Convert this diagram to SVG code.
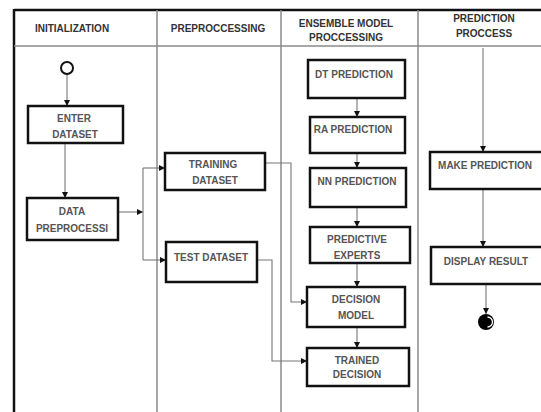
<svg xmlns="http://www.w3.org/2000/svg" width="541" height="412" viewBox="0 0 541 412">
  <style>
    .frame { stroke: #111; stroke-width: 2.5; fill: none; }
    .lane { stroke: #8a8a8a; stroke-width: 1.5; fill: none; }
    .hdr { font-family: "Liberation Sans", Arial, sans-serif; font-weight: bold; font-size: 10px; fill: #333; text-anchor: middle; }
    .box rect { fill: #fff; stroke: #111; stroke-width: 2.5; }
    .box text { font-family: "Liberation Sans", Arial, sans-serif; font-weight: bold; font-size: 10px; fill: #555; text-anchor: middle; }
    .conn { stroke: #777; stroke-width: 1.1; fill: none; marker-end: url(#arr); }
  </style>
  <defs>
    <marker id="arr" viewBox="0 0 6 6" refX="6" refY="3" markerWidth="6" markerHeight="6" markerUnits="userSpaceOnUse" orient="auto">
      <path d="M0,0 L6,3 L0,6 Z" fill="#111"/>
    </marker>
  </defs>
  <rect width="541" height="412" fill="#fff"/>

  <!-- swimlane frame -->
  <g id="lanes">
    <line class="frame" x1="14" y1="10" x2="541" y2="10"/>
    <line class="frame" x1="14" y1="9" x2="14" y2="412"/>
    <line class="lane" x1="14" y1="46" x2="541" y2="46"/>
    <line class="lane" x1="157" y1="10" x2="157" y2="412"/>
    <line class="lane" x1="281" y1="10" x2="281" y2="412"/>
    <line class="lane" x1="418" y1="10" x2="418" y2="412"/>
    <text class="hdr" x="72" y="32">INITIALIZATION</text>
    <text class="hdr" x="218" y="32">PREPROCCESSING</text>
    <text class="hdr" x="346" y="27" font-size="9">ENSEMBLE MODEL</text>
    <text class="hdr" x="346" y="41" font-size="9">PROCCESSING</text>
    <text class="hdr" x="484" y="22">PREDICTION</text>
    <text class="hdr" x="484" y="37">PROCCESS</text>
  </g>

  <!-- connectors -->
  <g id="connectors">
    <line class="conn" x1="67" y1="74" x2="67" y2="106"/>
    <line class="conn" x1="65" y1="143" x2="65" y2="198"/>
    <line class="conn" x1="118" y1="212" x2="143" y2="212"/>
    <line stroke="#777" stroke-width="1.1" x1="143" y1="168" x2="143" y2="260"/>
    <line class="conn" x1="143" y1="168" x2="165" y2="168"/>
    <line class="conn" x1="143" y1="260" x2="166" y2="260"/>
    <polyline class="conn" points="265,163 291,163 291,302 307,302"/>
    <polyline class="conn" points="257,260 272,260 272,361 307,361"/>
    <line class="conn" x1="357" y1="98" x2="357" y2="117"/>
    <line class="conn" x1="357" y1="153" x2="357" y2="168"/>
    <line class="conn" x1="357" y1="207" x2="357" y2="227"/>
    <line class="conn" x1="357" y1="263" x2="357" y2="287"/>
    <line class="conn" x1="357" y1="327" x2="357" y2="348"/>
    <line class="conn" x1="483" y1="48" x2="483" y2="152"/>
    <line class="conn" x1="483" y1="189" x2="483" y2="247"/>
    <line class="conn" x1="486" y1="284" x2="486" y2="314"/>
  </g>

  <g id="start">
    <circle cx="67" cy="68" r="6" fill="#fff" stroke="#111" stroke-width="2"/>
  </g>

  <g id="enter-dataset" class="box">
    <rect x="28" y="106" width="95" height="37"/>
    <text x="74" y="122">ENTER</text>
    <text x="75" y="138">DATASET</text>
  </g>
  <g id="data-preprocessing" class="box">
    <rect x="27" y="198" width="91" height="42"/>
    <text x="72" y="215">DATA</text>
    <text x="72" y="232">PREPROCESSI</text>
  </g>
  <g id="training-dataset" class="box">
    <rect x="165" y="153" width="100" height="37"/>
    <text x="213" y="168">TRAINING</text>
    <text x="215" y="184">DATASET</text>
  </g>
  <g id="test-dataset" class="box">
    <rect x="166" y="242" width="91" height="40"/>
    <text x="211" y="261">TEST DATASET</text>
  </g>

  <g id="dt-prediction" class="box">
    <rect x="308" y="60" width="97" height="38"/>
    <text x="354" y="78">DT PREDICTION</text>
  </g>
  <g id="ra-prediction" class="box">
    <rect x="310" y="117" width="95" height="36"/>
    <text x="353" y="133" font-size="9.5">RA PREDICTION</text>
  </g>
  <g id="nn-prediction" class="box">
    <rect x="310" y="168" width="96" height="39"/>
    <text x="357" y="185" font-size="9">NN PREDICTION</text>
  </g>
  <g id="predictive-experts" class="box">
    <rect x="310" y="227" width="100" height="36"/>
    <text x="357" y="243">PREDICTIVE</text>
    <text x="357" y="259">EXPERTS</text>
  </g>
  <g id="decision-model" class="box">
    <rect x="307" y="287" width="98" height="40"/>
    <text x="356" y="303">DECISION</text>
    <text x="356" y="319">MODEL</text>
  </g>
  <g id="trained-decision" class="box">
    <rect x="307" y="348" width="102" height="38"/>
    <text x="357" y="364" font-size="8.5">TRAINED</text>
    <text x="357" y="378" font-size="8.5">DECISION</text>
  </g>

  <g id="make-prediction" class="box">
    <rect x="430" y="152" width="130" height="37"/>
    <text x="485" y="169">MAKE PREDICTION</text>
  </g>
  <g id="display-result" class="box">
    <rect x="431" y="247" width="130" height="37"/>
    <text x="486" y="265">DISPLAY RESULT</text>
  </g>

  <!-- final node: filled disc with a light crescent highlight -->
  <g id="end">
    <circle cx="486" cy="322" r="8" fill="#000"/>
    <path d="M487.5,317 A5,5 0 0 1 487.5,327" fill="none" stroke="#fff" stroke-width="1.3"/>
  </g>
</svg>
